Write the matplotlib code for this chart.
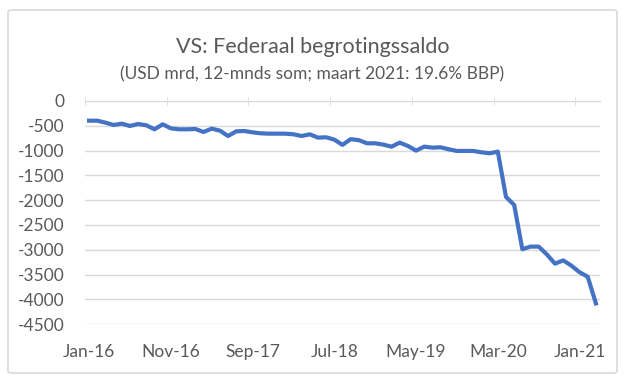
import matplotlib
matplotlib.use('Agg')
import matplotlib.pyplot as plt
from matplotlib.patches import FancyBboxPatch

plt.rcParams['font.family'] = ['Lato', 'DejaVu Sans']

# maandelijkse 12-mnds som, jan 2016 t/m mrt 2021 (USD mrd)
saldo = [-397, -397, -437, -484, -457, -504, -464, -490, -571, -470,
         -551, -571, -571, -565, -625, -558, -598, -706, -612, -605,
         -632, -652, -659, -659, -659, -672, -706, -672, -739, -732,
         -780, -885, -770, -790, -853, -853, -880, -921, -840, -907,
         -1001, -921, -941, -934, -974, -1008, -1008, -1008, -1035, -1055,
         -1021, -1935, -2096, -2990, -2937, -2937, -3096, -3281, -3215, -3321,
         -3454, -3546, -4083]
tick_labels = ['Jan-16', 'Nov-16', 'Sep-17', 'Jul-18', 'May-19', 'Mar-20', 'Jan-21']
tick_idx = [0, 10, 20, 30, 40, 50, 60]
y_ticks = list(range(0, -5000, -500))

grey = '#595959'

fig = plt.figure(figsize=(6.25, 3.84), dpi=100)
ax = fig.add_axes([0.136, 0.156, 0.824, 0.581])

# kader rond de grafiek
frame = FancyBboxPatch((8 / 625, 11 / 384), 609 / 625, 363 / 384,
                       boxstyle='round,pad=0,rounding_size=0.006',
                       transform=fig.transFigure, fill=False,
                       edgecolor='#D9D9D9', linewidth=1.2)
fig.patches.append(frame)

x = list(range(len(saldo)))
ax.plot(x, saldo, color='#4472C4', linewidth=3.0, solid_joinstyle='round', zorder=3)

ax.set_xlim(-0.5, len(saldo) - 0.5)
ax.set_ylim(-4500, 0)
ax.set_yticks(y_ticks)
ax.set_yticklabels([str(v) for v in y_ticks])
ax.yaxis.grid(True, color='#D9D9D9', linewidth=1)
ax.set_axisbelow(True)

ax.set_xticks(tick_idx)
ax.set_xticklabels(tick_labels)
ax.set_xticks([i - 0.5 for i in tick_idx], minor=True)
ax.tick_params(axis='x', which='major', length=0, pad=14, labelsize=12.5, labelcolor=grey)
ax.tick_params(axis='x', which='minor', top=True, bottom=False, direction='inout',
               length=6, color='#D9D9D9')
ax.tick_params(axis='y', length=0, pad=15, labelsize=12.5, labelcolor=grey)

for s in ['left', 'right', 'bottom']:
    ax.spines[s].set_visible(False)
ax.spines['top'].set_color('#D9D9D9')

fig.text(0.5, 1 - 47 / 384, 'VS: Federaal begrotingssaldo', ha='center', va='center',
         fontsize=15.5, color=grey)
fig.text(0.5, 1 - 74 / 384, '(USD mrd, 12-mnds som; maart 2021: 19.6% BBP)',
         ha='center', va='center', fontsize=12.5, color=grey)

fig.savefig('out.png', dpi=100, facecolor='white')
